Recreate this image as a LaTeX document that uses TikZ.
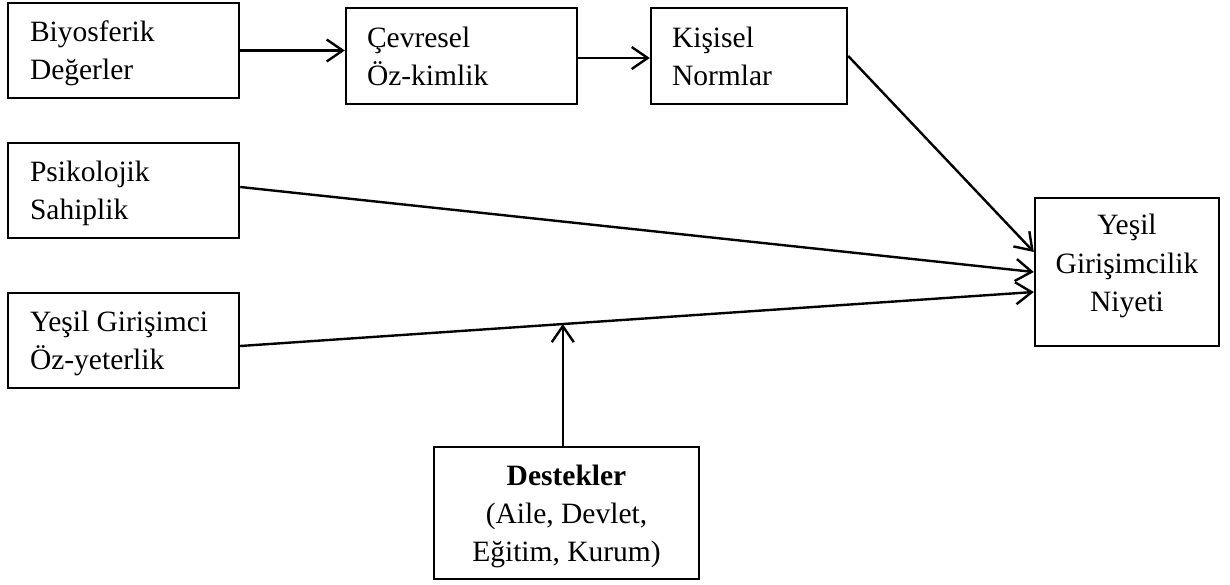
\documentclass[tikz,border=0pt]{standalone}
\usepackage{fontspec}
\setmainfont{Liberation Serif}
\usetikzlibrary{arrows.meta,calc}
\newcommand{\mystrut}[2]{\rule[-#2]{0pt}{\dimexpr #1+#2\relax}}
\begin{document}
\begin{tikzpicture}[x=1pt,y=-1pt,
  box/.style={draw, line width=2.4pt, inner sep=0pt, font=\fontsize{29.5}{38}\selectfont},
  lbox/.style={box, align=flush left},
  cbox/.style={box, align=center},
  conn/.style={line width=2.4pt, -{Straight Barb[length=16pt,width=22pt]}}]
\useasboundingbox (0,0) rectangle (1230,585);
\node[lbox, minimum width=231pt, minimum height=95pt, text width=187pt] (b1) at (123.5,50.5)
  {\mystrut{27pt}{6pt}Biyosferik\\Değerler\mystrut{27pt}{6pt}};
\node[lbox, minimum width=231pt, minimum height=96pt, text width=189pt] (b2) at (461.5,56)
  {\mystrut{27pt}{6pt}Çevresel\\Öz-kimlik\mystrut{27pt}{6pt}};
\node[lbox, minimum width=196pt, minimum height=96pt, text width=154pt] (b3) at (749,56)
  {\mystrut{27pt}{6pt}Kişisel\\Normlar\mystrut{27pt}{6pt}};
\node[lbox, minimum width=231pt, minimum height=95pt, text width=187pt] (b4) at (123.5,190.5)
  {\mystrut{27pt}{6pt}Psikolojik\\Sahiplik\mystrut{27pt}{6pt}};
\node[lbox, minimum width=231pt, minimum height=95pt, text width=187pt] (b5) at (123.5,340.5)
  {\mystrut{27pt}{6pt}Yeşil Girişimci\\Öz-yeterlik\mystrut{27pt}{6pt}};
\node[cbox, minimum width=184pt, minimum height=148pt] (t) at (1127,272)
  {\mystrut{20pt}{18pt}Yeşil\\Girişimcilik\\Niyeti\mystrut{20pt}{18pt}};
\node[cbox, minimum width=265pt, minimum height=132pt] (d) at (566.5,513)
  {\mystrut{27pt}{3pt}\textbf{Destekler}\\(Aile, Devlet,\\Eğitim, Kurum)\mystrut{27pt}{3pt}};
\coordinate (y58) at (0,58);
\draw[conn] (b1.east) -- (b1.east -| b2.west);
\draw[conn] (b2.east |- y58) -- (b3.west |- y58);
\draw[conn] (b3.east) -- ($(t.west)+(0,-20)$);
\draw[conn] ($(b4.east)+(0,-3.5)$) -- (t.west);
\coordinate (s5) at ($(b5.east)+(0,5.5)$);
\coordinate (e5) at ($(t.west)+(0,20)$);
\draw[conn] (s5) -- (e5);
\coordinate (m) at ($(s5)!0.4065!(e5)$);
\draw[conn] (m |- d.north) -- (m);
\end{tikzpicture}
\end{document}
